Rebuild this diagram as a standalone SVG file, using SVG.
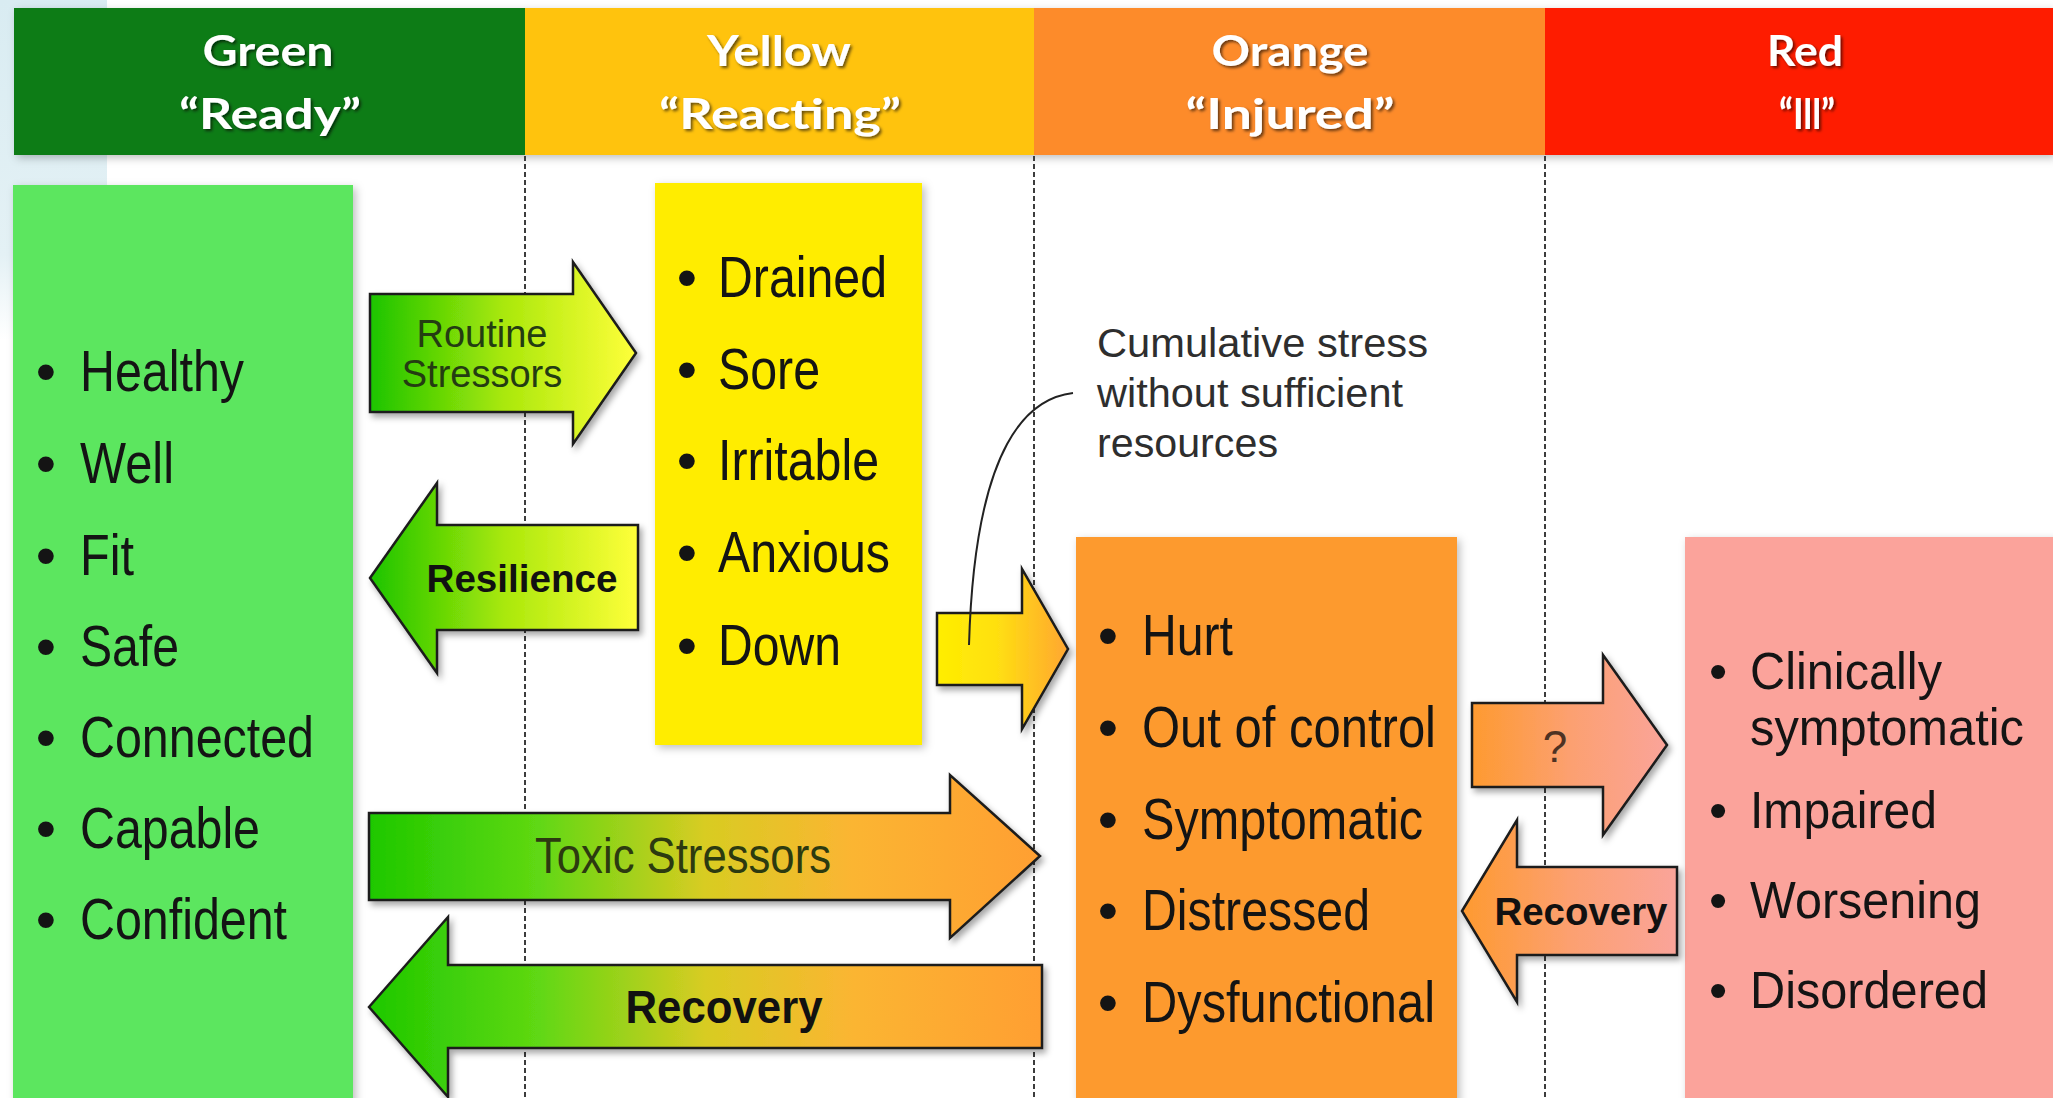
<svg xmlns="http://www.w3.org/2000/svg" width="2053" height="1098" viewBox="0 0 2053 1098">
<defs>
<style>
.hd{font-family:Lato,"Open Sans","Liberation Sans",sans-serif;font-weight:bold;font-size:42px;fill:#fff;text-anchor:middle}
.li{font-family:"Liberation Sans",Arial,sans-serif;font-size:58px;fill:#141414}
.lr{font-family:"Liberation Sans",Arial,sans-serif;font-size:52px;fill:#141414}
.bu{text-anchor:middle}
.al{font-family:"Liberation Sans",Arial,sans-serif;text-anchor:middle}
.ab{font-family:"Liberation Sans",Arial,sans-serif;font-weight:bold;text-anchor:middle;fill:#111}
.note{font-family:"Liberation Sans",Arial,sans-serif;font-size:40px;fill:#2e2e2e}
.arr{stroke:#1c1c1c;stroke-width:2.5;stroke-linejoin:miter}
.dash{stroke:#3c3c3c;stroke-width:2;stroke-dasharray:5 3;fill:none}
</style>
<filter id="sh" x="-10%" y="-10%" width="130%" height="130%">
<feDropShadow dx="3" dy="4" stdDeviation="3" flood-color="#000" flood-opacity="0.35"/>
</filter>
<filter id="bsh" x="-10%" y="-10%" width="130%" height="130%">
<feDropShadow dx="3" dy="3" stdDeviation="4" flood-color="#000" flood-opacity="0.25"/>
</filter>
<filter id="tsh" x="-10%" y="-20%" width="130%" height="150%">
<feDropShadow dx="2" dy="2" stdDeviation="1.5" flood-color="#000" flood-opacity="0.6"/>
</filter>
<linearGradient id="gBlue" x1="0" y1="0" x2="0" y2="1">
<stop offset="0" stop-color="#d9ecf2"/>
<stop offset="0.75" stop-color="#e4f1f5"/>
<stop offset="1" stop-color="#ffffff"/>
</linearGradient>
<linearGradient id="gGY" x1="0" y1="0" x2="1" y2="0">
<stop offset="0" stop-color="#1cc400"/>
<stop offset="0.5" stop-color="#a9e80a"/>
<stop offset="1" stop-color="#ffff3a"/>
</linearGradient>
<linearGradient id="gYO" x1="0" y1="0" x2="1" y2="0">
<stop offset="0" stop-color="#ffee00"/>
<stop offset="0.45" stop-color="#ffe010"/>
<stop offset="1" stop-color="#ffa632"/>
</linearGradient>
<linearGradient id="gGO" x1="0" y1="0" x2="1" y2="0">
<stop offset="0" stop-color="#1ec800"/>
<stop offset="0.25" stop-color="#5fd812"/>
<stop offset="0.5" stop-color="#d8cc22"/>
<stop offset="0.72" stop-color="#fbb532"/>
<stop offset="1" stop-color="#ff9f30"/>
</linearGradient>
<linearGradient id="gOP" x1="0" y1="0" x2="1" y2="0">
<stop offset="0" stop-color="#fe9a30"/>
<stop offset="0.5" stop-color="#fca070"/>
<stop offset="1" stop-color="#faa49a"/>
</linearGradient>
</defs>

<rect x="0" y="0" width="2053" height="1098" fill="#ffffff"/>
<rect x="0" y="0" width="107" height="340" fill="url(#gBlue)"/>

<g id="header" filter="url(#bsh)">
<g id="hdr-green"><rect x="14" y="8" width="511" height="147" fill="#0b7b17"/>
<text class="hd" x="268" y="66" filter="url(#tsh)" textLength="131" lengthAdjust="spacingAndGlyphs">Green</text>
<text class="hd" x="270" y="129" filter="url(#tsh)" textLength="182" lengthAdjust="spacingAndGlyphs">“Ready”</text></g>
<g id="hdr-yellow"><rect x="525" y="8" width="509" height="147" fill="#ffc30f"/>
<text class="hd" x="779" y="66" filter="url(#tsh)" textLength="144" lengthAdjust="spacingAndGlyphs">Yellow</text>
<text class="hd" x="780" y="129" filter="url(#tsh)" textLength="242" lengthAdjust="spacingAndGlyphs">“Reacting”</text></g>
<g id="hdr-orange"><rect x="1034" y="8" width="511" height="147" fill="#fd8b2c"/>
<text class="hd" x="1290" y="66" filter="url(#tsh)" textLength="157" lengthAdjust="spacingAndGlyphs">Orange</text>
<text class="hd" x="1290" y="129" filter="url(#tsh)" textLength="209" lengthAdjust="spacingAndGlyphs">“Injured”</text></g>
<g id="hdr-red"><rect x="1545" y="8" width="508" height="147" fill="#fe1d03"/>
<text class="hd" x="1805" y="66" filter="url(#tsh)" textLength="76" lengthAdjust="spacingAndGlyphs">Red</text>
<text class="hd" x="1807" y="129" filter="url(#tsh)" textLength="56" lengthAdjust="spacingAndGlyphs">“Ill”</text></g>
</g>

<g id="dividers">
<line class="dash" x1="525" y1="156" x2="525" y2="1098"/>
<line class="dash" x1="1034" y1="156" x2="1034" y2="1098"/>
<line class="dash" x1="1545" y1="156" x2="1545" y2="1098"/>
</g>

<g id="box-green">
<rect x="13" y="185" width="340" height="920" fill="#5ce65f" filter="url(#bsh)"/>
<g class="li">
<text class="bu" x="46" y="391">•</text><text x="80" y="391" textLength="164" lengthAdjust="spacingAndGlyphs">Healthy</text>
<text class="bu" x="46" y="483">•</text><text x="80" y="483" textLength="94" lengthAdjust="spacingAndGlyphs">Well</text>
<text class="bu" x="46" y="575">•</text><text x="80" y="575" textLength="54" lengthAdjust="spacingAndGlyphs">Fit</text>
<text class="bu" x="46" y="666">•</text><text x="80" y="666" textLength="99" lengthAdjust="spacingAndGlyphs">Safe</text>
<text class="bu" x="46" y="757">•</text><text x="80" y="757" textLength="234" lengthAdjust="spacingAndGlyphs">Connected</text>
<text class="bu" x="46" y="848">•</text><text x="80" y="848" textLength="180" lengthAdjust="spacingAndGlyphs">Capable</text>
<text class="bu" x="46" y="939">•</text><text x="80" y="939" textLength="207" lengthAdjust="spacingAndGlyphs">Confident</text>
</g>
</g>

<g id="box-yellow">
<rect x="655" y="183" width="267" height="562" fill="#ffed00" filter="url(#bsh)"/>
<g class="li">
<text class="bu" x="687" y="297">•</text><text x="718" y="297" textLength="169" lengthAdjust="spacingAndGlyphs">Drained</text>
<text class="bu" x="687" y="389">•</text><text x="718" y="389" textLength="102" lengthAdjust="spacingAndGlyphs">Sore</text>
<text class="bu" x="687" y="480">•</text><text x="718" y="480" textLength="161" lengthAdjust="spacingAndGlyphs">Irritable</text>
<text class="bu" x="687" y="572">•</text><text x="718" y="572" textLength="172" lengthAdjust="spacingAndGlyphs">Anxious</text>
<text class="bu" x="687" y="665">•</text><text x="718" y="665" textLength="123" lengthAdjust="spacingAndGlyphs">Down</text>
</g>
</g>

<g id="box-orange">
<rect x="1076" y="537" width="381" height="570" fill="#fd9a2e" filter="url(#bsh)"/>
<g class="li">
<text class="bu" x="1108" y="655">•</text><text x="1142" y="655" textLength="91" lengthAdjust="spacingAndGlyphs">Hurt</text>
<text class="bu" x="1108" y="747">•</text><text x="1142" y="747" textLength="294" lengthAdjust="spacingAndGlyphs">Out of control</text>
<text class="bu" x="1108" y="839">•</text><text x="1142" y="839" textLength="281" lengthAdjust="spacingAndGlyphs">Symptomatic</text>
<text class="bu" x="1108" y="930">•</text><text x="1142" y="930" textLength="228" lengthAdjust="spacingAndGlyphs">Distressed</text>
<text class="bu" x="1108" y="1022">•</text><text x="1142" y="1022" textLength="293" lengthAdjust="spacingAndGlyphs">Dysfunctional</text>
</g>
</g>

<g id="box-red">
<rect x="1685" y="537" width="380" height="570" fill="#fba39b" filter="url(#bsh)"/>
<g class="lr">
<text class="bu" x="1718" y="689">•</text><text x="1750" y="689" textLength="192" lengthAdjust="spacingAndGlyphs">Clinically</text>
<text x="1750" y="745" textLength="274" lengthAdjust="spacingAndGlyphs">symptomatic</text>
<text class="bu" x="1718" y="828">•</text><text x="1750" y="828" textLength="187" lengthAdjust="spacingAndGlyphs">Impaired</text>
<text class="bu" x="1718" y="918">•</text><text x="1750" y="918" textLength="231" lengthAdjust="spacingAndGlyphs">Worsening</text>
<text class="bu" x="1718" y="1008">•</text><text x="1750" y="1008" textLength="238" lengthAdjust="spacingAndGlyphs">Disordered</text>
</g>
</g>

<g id="note">
<text class="note" x="1097" y="357" textLength="331" lengthAdjust="spacingAndGlyphs">Cumulative stress</text>
<text class="note" x="1097" y="407" textLength="306" lengthAdjust="spacingAndGlyphs">without sufficient</text>
<text class="note" x="1097" y="457" textLength="181" lengthAdjust="spacingAndGlyphs">resources</text>
</g>

<g id="connectors">
<g id="arr-routine" filter="url(#sh)">
<polygon class="arr" fill="url(#gGY)" points="370,294 573,294 573,262 636,353 573,444 573,412 370,412"/>
</g>
<text class="al" x="482" y="347" font-size="38" fill="#243c12">Routine</text>
<text class="al" x="482" y="387" font-size="38" fill="#243c12">Stressors</text>

<g id="arr-resilience" filter="url(#sh)">
<polygon class="arr" fill="url(#gGY)" points="370,578 437,483 437,525 638,525 638,630 437,630 437,673"/>
</g>
<text class="ab" x="522" y="592" font-size="39" textLength="191" lengthAdjust="spacingAndGlyphs">Resilience</text>

<g id="arr-cumulative" filter="url(#sh)">
<polygon class="arr" fill="url(#gYO)" points="937,613 1022,613 1022,569 1068,649 1022,729 1022,685 937,685"/>
</g>

<g id="arr-toxic" filter="url(#sh)">
<polygon class="arr" fill="url(#gGO)" points="369,813 950,813 950,775 1040,856 950,938 950,900 369,900"/>
</g>
<text class="al" x="683" y="873" font-size="50" fill="#2c3a10" textLength="296" lengthAdjust="spacingAndGlyphs">Toxic Stressors</text>

<g id="arr-recovery" filter="url(#sh)">
<polygon class="arr" fill="url(#gGO)" points="369,1007 448,917 448,965 1042,965 1042,1048 448,1048 448,1097"/>
</g>
<text class="ab" x="724" y="1023" font-size="46" textLength="197" lengthAdjust="spacingAndGlyphs">Recovery</text>

<g id="arr-question" filter="url(#sh)">
<polygon class="arr" fill="url(#gOP)" points="1472,703 1603,703 1603,655 1667,745 1603,835 1603,787 1472,787"/>
</g>
<text class="al" x="1555" y="762" font-size="44" fill="#4e3223">?</text>

<g id="arr-recovery-small" filter="url(#sh)">
<polygon class="arr" fill="url(#gOP)" points="1462,911 1517,820 1517,867 1677,867 1677,955 1517,955 1517,1002"/>
</g>
<text class="ab" x="1581" y="925" font-size="39" textLength="173" lengthAdjust="spacingAndGlyphs">Recovery</text>

<path d="M1073,393 C1030,398 975,440 969,645" fill="none" stroke="#222" stroke-width="2"/>
</g>
</svg>
